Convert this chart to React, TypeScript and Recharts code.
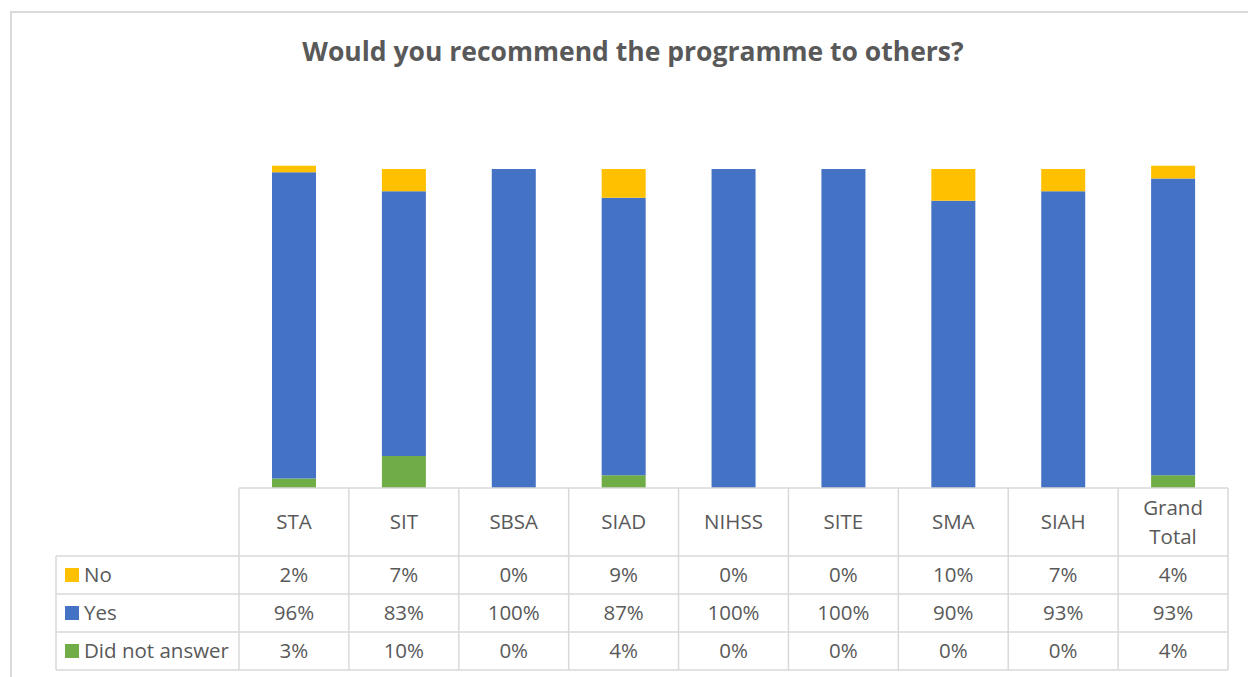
import React from 'react'
import { BarChart, Bar, XAxis, YAxis } from 'recharts'

// programme codes along the bottom
const categories = ['STA', 'SIT', 'SBSA', 'SIAD', 'NIHSS', 'SITE', 'SMA', 'SIAH', 'Grand Total']

// percentages per answer
const noValues = [2, 7, 0, 9, 0, 0, 10, 7, 4]
const yesValues = [96, 83, 100, 87, 100, 100, 90, 93, 93]
const didNotAnswerValues = [3, 10, 0, 4, 0, 0, 0, 0, 4]

const seriesNames = ['No', 'Yes', 'Did not answer']
const seriesColors = ['#FFC000', '#4472C4', '#70AD47']

const data = categories.map((name, i) => ({
  name,
  no: noValues[i],
  yes: yesValues[i],
  dna: didNotAnswerValues[i],
}))

const TEXT = '#595959'
const LINE = '#d9d9d9'
const FONT = '"Open Sans", sans-serif'
const FS = 20.5

const W = 1248
const H = 677
const PLOT_LEFT = 239
const PLOT_RIGHT = 1228
const PLOT_BOTTOM = 488
const ROW_Y = [488, 556, 594, 632, 670]
const LEGEND_LEFT = 56

// renders the column of the data table under each bar
const TableColumn = (props: any) => {
  const { x, y, payload } = props
  const i = payload.index
  const label: string = payload.value
  const lines = label === 'Grand Total' ? ['Grand', 'Total'] : [label]
  const rows = [noValues[i], yesValues[i], didNotAnswerValues[i]]
  const headerMid = y + 34
  return (
    <g fontFamily={FONT} fontSize={FS} fill={TEXT} textAnchor="middle">
      {lines.map((l, k) => (
        <text key={l} x={x} y={headerMid + (k - (lines.length - 1) / 2) * 29} dy="0.35em">
          {l}
        </text>
      ))}
      {rows.map((v, k) => (
        <text key={k} x={x} y={(ROW_Y[k + 1] + ROW_Y[k + 2]) / 2} dy="0.35em">
          {v}%
        </text>
      ))}
    </g>
  )
}

function TableGrid() {
  const colW = (PLOT_RIGHT - PLOT_LEFT) / categories.length
  const verticals = categories.map((_, i) => PLOT_LEFT + i * colW).concat(PLOT_RIGHT)
  return (
    <svg width={W} height={H} style={{ position: 'absolute', left: 0, top: 0, pointerEvents: 'none' }}>
      <g stroke={LINE} strokeWidth={1.5}>
        <line x1={PLOT_LEFT} x2={PLOT_RIGHT} y1={ROW_Y[0]} y2={ROW_Y[0]} />
        {ROW_Y.slice(1).map((y) => (
          <line key={y} x1={LEGEND_LEFT} x2={PLOT_RIGHT} y1={y} y2={y} />
        ))}
        <line x1={LEGEND_LEFT} x2={LEGEND_LEFT} y1={ROW_Y[1]} y2={ROW_Y[4]} />
        {verticals.map((x) => (
          <line key={x} x1={x} x2={x} y1={ROW_Y[0]} y2={ROW_Y[4]} />
        ))}
      </g>
      {seriesNames.map((s, k) => {
        const mid = (ROW_Y[k + 1] + ROW_Y[k + 2]) / 2
        return (
          <g key={s}>
            <rect x={65} y={mid - 7} width={14} height={14} fill={seriesColors[k]} />
            <text x={84} y={mid} dy="0.35em" fontFamily={FONT} fontSize={FS} fill={TEXT}>
              {s}
            </text>
          </g>
        )
      })}
    </svg>
  )
}

export default function App() {
  return (
    <div style={{ position: 'absolute', left: 0, top: 0, width: W, height: H, background: '#fff', overflow: 'hidden' }}>
      <div
        style={{
          position: 'absolute',
          left: 10,
          top: 11,
          width: 1260,
          height: 700,
          border: `2px solid ${LINE}`,
          boxSizing: 'border-box',
        }}
      />
      <div
        style={{
          position: 'absolute',
          left: 10,
          width: 1246,
          top: 33,
          lineHeight: '36px',
          textAlign: 'center',
          fontFamily: FONT,
          fontWeight: 700,
          fontSize: 26.5,
          color: TEXT,
        }}
      >
        Would you recommend the programme to others?
      </div>
      <div style={{ position: 'absolute', left: 0, top: 0 }}>
        <BarChart
          width={W}
          height={H}
          data={data}
          margin={{ top: PLOT_BOTTOM - 335, right: W - PLOT_RIGHT, left: PLOT_LEFT, bottom: 9 }}
        >
          <XAxis
            dataKey="name"
            axisLine={false}
            tickLine={false}
            tickSize={0}
            tickMargin={0}
            height={H - PLOT_BOTTOM - 9}
            interval={0}
            tick={<TableColumn />}
          />
          <YAxis hide domain={[0, 105]} width={0} />
          <Bar dataKey="dna" stackId="a" fill={seriesColors[2]} barSize={44} isAnimationActive={false} />
          <Bar dataKey="yes" stackId="a" fill={seriesColors[1]} barSize={44} isAnimationActive={false} />
          <Bar dataKey="no" stackId="a" fill={seriesColors[0]} barSize={44} isAnimationActive={false} />
        </BarChart>
      </div>
      <TableGrid />
    </div>
  )
}
